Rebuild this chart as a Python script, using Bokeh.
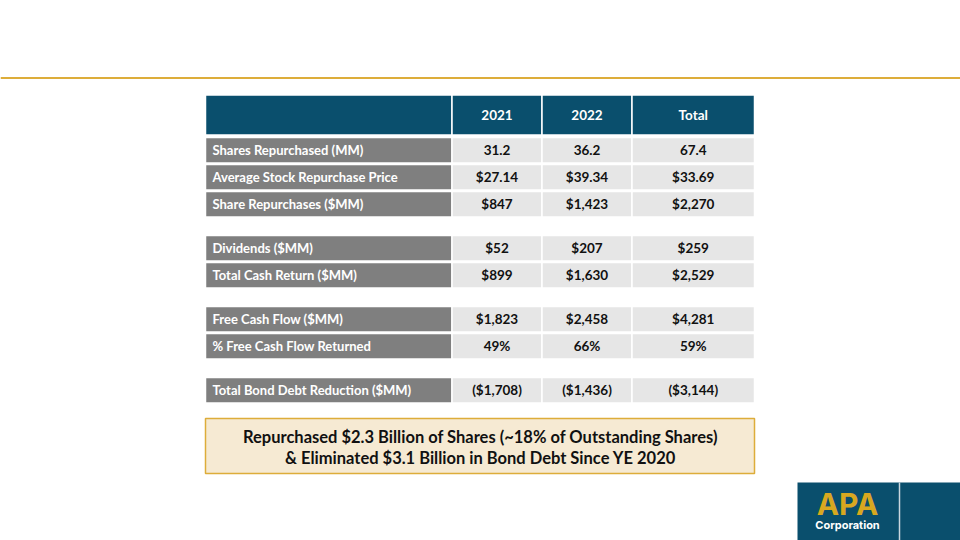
from bokeh.plotting import figure
from bokeh.models import Range1d
from bokeh.core.properties import value
from bokeh.embed import file_html
from bokeh.resources import INLINE

# ---------------- data ----------------
columns = ["2021", "2022", "Total"]
row_labels = [
    "Shares Repurchased (MM)",
    "Average Stock Repurchase Price",
    "Share Repurchases ($MM)",
    "Dividends ($MM)",
    "Total Cash Return ($MM)",
    "Free Cash Flow ($MM)",
    "% Free Cash Flow Returned",
    "Total Bond Debt Reduction ($MM)",
]
row_groups = [0, 0, 0, 1, 1, 2, 2, 3]
values_2021 = ["31.2", "$27.14", "$847", "$52", "$899", "$1,823", "49%", "($1,708)"]
values_2022 = ["36.2", "$39.34", "$1,423", "$207", "$1,630", "$2,458", "66%", "($1,436)"]
values_total = ["67.4", "$33.69", "$2,270", "$259", "$2,529", "$4,281", "59%", "($3,144)"]
callout_lines = [
    "Repurchased $2.3 Billion of Shares (~18% of Outstanding Shares)",
    "& Eliminated $3.1 Billion in Bond Debt Since YE 2020",
]
logo_main = "APA"
logo_sub = "Corporation"

# ---------------- layout / style ----------------
FONT = value("Lato")
BLUE = "#0A4F6D"
GRAY = "#7F7F7F"
LIGHT = "#E6E6E6"
GOLD = "#DDAD3A"

col_edges = [205, 451.5, 541.5, 631.5, 754]
header_top, header_bottom = 94.5, 134.5
row_start, row_pitch, row_h, group_gap = 137, 27, 25.5, 17

W, H = 960, 540
p = figure(width=W, height=H, x_range=Range1d(0, W), y_range=Range1d(H, 0),
           output_backend="svg", toolbar_location=None,
           x_axis_location=None, y_axis_location=None, min_border=0)
p.min_border_left = p.min_border_right = p.min_border_top = p.min_border_bottom = 0
p.grid.visible = False
p.outline_line_color = None
p.background_fill_color = "white"
p.border_fill_color = "white"

# top gold rule
p.segment(x0=[0], y0=[77.5], x1=[W], y1=[77.5], line_color=GOLD, line_width=2)

# header
p.quad(left=col_edges[:-1], right=col_edges[1:], top=[header_top] * 4, bottom=[header_bottom] * 4,
       fill_color=BLUE, line_color="white", line_width=1.5)
col_centers = [(col_edges[i + 1] + col_edges[i + 2]) / 2 for i in range(3)]
hy = (header_top + header_bottom) / 2
p.text(x=col_centers, y=[hy] * 3, text=columns, text_align="center", text_baseline="middle",
       text_font=FONT, text_font_style="bold", text_font_size="13.5px", text_color="white")

# body rows
tops = [row_start + i * row_pitch + g * group_gap for i, g in enumerate(row_groups)]
bottoms = [t + row_h for t in tops]
mids = [(t + b) / 2 for t, b in zip(tops, bottoms)]

p.quad(left=[col_edges[0]] * len(tops), right=[col_edges[1]] * len(tops), top=tops, bottom=bottoms,
       fill_color=GRAY, line_color="white", line_width=1.5)
for ci in range(3):
    p.quad(left=[col_edges[ci + 1]] * len(tops), right=[col_edges[ci + 2]] * len(tops),
           top=tops, bottom=bottoms, fill_color=LIGHT, line_color="white", line_width=1.5)

p.text(x=[212] * len(mids), y=mids, text=row_labels, text_align="left", text_baseline="middle",
       text_font=FONT, text_font_style="bold", text_font_size="13px", text_color="white")
for ci, vals in enumerate([values_2021, values_2022, values_total]):
    p.text(x=[col_centers[ci]] * len(mids), y=mids, text=vals, text_align="center",
           text_baseline="middle", text_font=FONT, text_font_style="bold",
           text_font_size="13.5px", text_color="#111111")

# callout box
p.quad(left=[205], right=[754], top=[418], bottom=[473], fill_color="#F6EAD3",
       line_color=GOLD, line_width=1.5)
p.text(x=[480, 480], y=[436, 457], text=callout_lines, text_align="center",
       text_baseline="middle", text_font=FONT, text_font_style="bold", text_font_size="16.5px",
       text_color="#111111")

# logo
p.quad(left=[797], right=[W], top=[482], bottom=[H], fill_color=BLUE, line_color=None)
p.segment(x0=[899], y0=[482], x1=[899], y1=[H], line_color="#C9D6DE", line_width=1.5)
p.text(x=[847], y=[503], text=[logo_main], text_align="center", text_baseline="middle",
       text_font=value("Inter"), text_font_style="bold", text_font_size="30px", text_color="#D8A820")
p.text(x=[847], y=[524], text=[logo_sub], text_align="center", text_baseline="middle",
       text_font=value("Inter"), text_font_style="bold", text_font_size="11px", text_color="white")

open("out.html", "w").write(file_html(p, INLINE))
